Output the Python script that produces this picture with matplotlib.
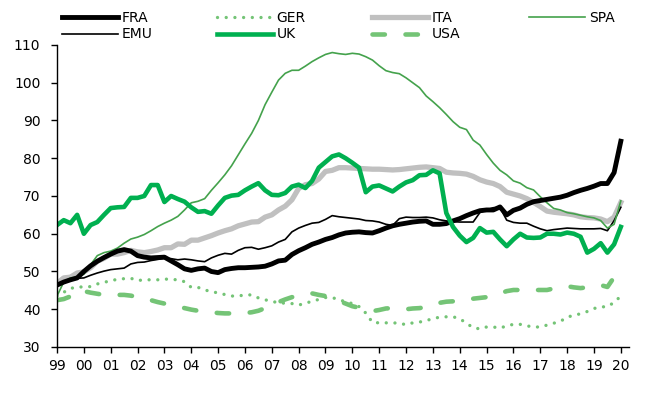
import numpy as np
import matplotlib
matplotlib.use('Agg')
import matplotlib.pyplot as plt

# quarterly, 1999Q1 .. 2020Q1
fra = [46.4, 47.2, 47.8, 48.3, 50.0, 51.5, 52.7, 53.7, 54.6, 55.4, 55.8, 55.4, 54.2, 53.8, 53.6, 53.7,
       53.8, 52.8, 51.8, 50.7, 50.3, 50.7, 50.9, 50.0, 49.7, 50.5, 50.8, 51.0, 51.0, 51.1, 51.2, 51.4,
       52.0, 52.8, 53.0, 54.5, 55.5, 56.3, 57.2, 57.8, 58.5, 59.0, 59.7, 60.2, 60.4, 60.5, 60.3, 60.2,
       60.8, 61.5, 62.1, 62.5, 62.8, 63.1, 63.3, 63.4, 62.5, 62.5, 62.7, 63.4, 64.0, 64.8, 65.5, 66.1,
       66.3, 66.3, 67.1, 65.0, 66.2, 66.8, 67.8, 68.5, 68.8, 69.1, 69.4, 69.7, 70.2, 70.9, 71.5, 72.0,
       72.6, 73.3, 73.3, 76.2, 84.5]
emu = [46.6, 47.0, 47.6, 48.2, 48.3, 49.0, 49.6, 50.1, 50.5, 50.7, 50.9, 52.0, 52.4, 52.5, 52.9, 53.2,
       53.5, 53.4, 53.1, 53.3, 53.1, 52.8, 52.6, 53.6, 54.3, 54.8, 54.6, 55.6, 56.3, 56.4, 55.9, 56.3,
       56.8, 57.8, 58.5, 60.5, 61.5, 62.2, 62.8, 63.0, 63.8, 64.8, 64.5, 64.3, 64.1, 63.9, 63.5, 63.4,
       63.1, 62.5, 62.2, 64.0, 64.4, 64.3, 64.3, 64.4, 64.2, 63.7, 63.4, 63.2, 63.1, 63.1, 63.1, 65.6,
       66.3, 66.9, 66.9, 63.6, 63.0, 62.8, 62.8, 62.0, 61.3, 60.8, 61.1, 61.3, 61.5, 61.4, 61.3, 61.3,
       61.3, 61.4, 60.8, 63.5, 67.0]
ger = [43.5, 44.5, 45.5, 45.9, 45.9, 46.0, 46.7, 47.1, 47.6, 47.9, 48.1, 48.2, 47.6, 47.8, 47.8, 47.8,
       48.0, 47.9, 47.8, 47.3, 45.8, 45.8, 45.1, 44.7, 44.3, 43.9, 43.5, 43.5, 43.8, 43.8, 43.0, 42.5,
       42.1, 41.7, 41.6, 41.5, 41.1, 41.6, 42.1, 42.6, 43.1, 43.1, 42.5, 42.0, 41.5, 40.7, 39.0, 36.5,
       36.4, 36.4, 36.4, 36.3, 35.9, 36.4, 36.6, 37.0, 37.5, 37.9, 38.0, 38.0, 37.5, 36.3, 35.1, 34.8,
       35.3, 35.3, 35.0, 35.6, 36.0, 36.0, 35.6, 35.3, 35.3, 35.8, 36.3, 36.8, 37.9, 38.4, 38.8, 39.4,
       40.2, 40.6, 40.7, 41.8, 43.5]
uk = [62.3, 63.6, 62.8, 65.0, 60.0, 62.3, 63.1, 65.0, 66.8, 67.0, 67.1, 69.5, 69.5, 70.0, 72.9, 72.9,
      68.4, 70.0, 69.2, 68.5, 67.0, 65.8, 66.0, 65.3, 67.5, 69.5, 70.1, 70.3, 71.5, 72.5, 73.4, 71.5,
      70.3, 70.2, 70.8, 72.5, 73.0, 72.1, 74.0, 77.5, 79.0, 80.5, 81.0, 80.0, 78.8, 77.5, 71.0, 72.5,
      72.8, 72.0, 71.2, 72.5, 73.6, 74.2, 75.5, 75.6, 76.8, 76.0, 65.5, 61.8, 59.5, 57.8, 58.9, 61.5,
      60.3, 60.5, 58.5, 56.7, 58.5, 60.0, 59.0, 58.9, 59.0, 60.0, 60.0, 59.8, 60.3, 60.0, 59.2, 55.0,
      56.0, 57.5, 55.0, 57.2, 61.8]
ita = [46.9, 48.3, 48.5, 49.6, 49.9, 51.0, 52.7, 53.5, 54.6, 54.6, 55.0, 55.6, 55.2, 55.0, 55.3, 55.7,
       56.3, 56.3, 57.3, 57.2, 58.3, 58.3, 58.9, 59.5, 60.2, 60.8, 61.3, 62.1, 62.6, 63.1, 63.2, 64.4,
       65.0, 66.3, 67.3, 69.0, 72.0, 73.0, 73.3, 74.5, 76.5, 76.8, 77.5, 77.5, 77.4, 77.3, 77.2, 77.1,
       77.1, 77.0, 76.9, 77.0, 77.2, 77.4, 77.6, 77.7, 77.5, 77.3, 76.3, 76.1, 76.0, 75.8, 75.2, 74.3,
       73.7, 73.3, 72.5, 71.0, 70.5, 70.0, 69.3, 68.3, 67.2, 66.0, 65.7, 65.5, 65.3, 65.0, 64.5, 64.3,
       64.2, 63.9, 63.2, 64.4, 68.3]
usa = [42.4, 42.7, 43.4, 45.0, 44.8, 44.4, 44.1, 43.8, 43.7, 43.8, 43.8, 43.6, 43.2, 43.0, 42.4, 41.9,
       41.5, 41.1, 40.7, 40.3, 39.9, 39.6, 39.4, 39.2, 39.0, 38.9, 38.9, 39.0, 39.0, 39.2, 39.6, 40.3,
       41.0, 41.9, 42.6, 43.2, 43.6, 44.0, 44.2, 43.8, 43.5, 42.9, 42.2, 41.5, 40.8, 40.4, 39.8, 39.5,
       39.8, 40.2, 40.3, 40.2, 40.0, 40.2, 40.3, 40.6, 41.0, 41.7, 42.0, 42.1, 42.2, 42.4, 42.8, 43.0,
       43.2, 43.5, 44.2, 44.8, 45.1, 45.1, 45.1, 45.1, 45.1, 45.1, 45.5, 45.9, 46.1, 45.8, 45.6, 45.8,
       46.2, 46.4, 45.9, 48.5]
spa = [43.5, 47.2, 48.3, 48.5, 49.3, 51.8, 54.2, 55.0, 55.4, 56.2, 57.5, 58.6, 59.1, 59.8, 60.8, 61.9,
       62.8, 63.6, 64.6, 66.3, 68.2, 68.6, 69.3, 71.5, 73.5, 75.6, 78.0, 80.9, 83.8, 86.6, 90.0, 94.2,
       97.5, 100.7, 102.5, 103.3, 103.3, 104.4, 105.6, 106.6, 107.5, 108.0, 107.7, 107.5, 107.8, 107.6,
       106.9, 106.0, 104.5, 103.2, 102.7, 102.4, 101.3, 100.0, 98.7, 96.5, 95.0, 93.4, 91.6, 89.7, 88.2,
       87.6, 84.8, 83.5, 81.0, 78.7, 76.8, 75.6, 74.0, 73.4, 72.2, 71.6, 69.8, 68.2, 66.7, 66.3, 65.6,
       65.3, 64.9, 64.5, 64.2, 63.5, 61.5, 62.5, 68.7]

years = ['99'] + [f'{y:02d}' for y in range(0, 21)]

plt.rcParams['font.family'] = 'DejaVu Sans'
plt.rcParams['font.size'] = 10

fig = plt.figure(figsize=(6.45, 3.94), dpi=100)
ax = fig.add_axes([0.0884, 0.1193, 0.8866, 0.7665])

q = lambda s: np.arange(len(s))

ax.plot(q(ita), ita, color='#c0c0c0', lw=3.8, label='ITA')
ax.plot(q(ger), ger, color='#74c476', lw=2.4, ls=(0, (0.01, 2.6)), dash_capstyle='round', label='GER')
ax.plot(q(usa), usa, color='#74c476', lw=3.3, ls=(0, (2.7, 4.5)), dash_capstyle='round', label='USA')
ax.plot(q(emu), emu, color='black', lw=1.2, label='EMU')
ax.plot(q(spa), spa, color='#44a24c', lw=1.2, label='SPA')
ax.plot(q(fra), fra, color='black', lw=3.5, label='FRA')
ax.plot(q(uk), uk, color='#00b050', lw=3.3, label='UK')

ax.set_xlim(0, 85.2)
ax.set_ylim(30, 110)
ax.set_yticks(range(30, 111, 10))
ax.set_xticks(range(0, 85, 4))
ax.set_xticklabels(years)
ax.spines['top'].set_visible(False)
ax.spines['right'].set_visible(False)
ax.spines['left'].set_linewidth(1.0)
ax.spines['bottom'].set_linewidth(1.0)
ax.tick_params(direction='out', length=4, width=1.0, labelsize=10)
ax.tick_params(axis='y', pad=8)
ax.tick_params(axis='x', pad=5)

h, l = ax.get_legend_handles_labels()
hd = dict(zip(l, h))
cols = [(['FRA', 'EMU'], 0.0961), (['GER', 'UK'], 0.3364), (['ITA', 'USA'], 0.5767), (['SPA'], 0.8202)]
for keys, x0 in cols:
    fig.legend([hd[k] for k in keys], keys, loc='upper left', bbox_to_anchor=(x0, 0.973),
               frameon=False, handlelength=4.0, handletextpad=0.3, labelspacing=0.2,
               fontsize=10, borderpad=0, borderaxespad=0)

fig.savefig('out.png', dpi=100)
